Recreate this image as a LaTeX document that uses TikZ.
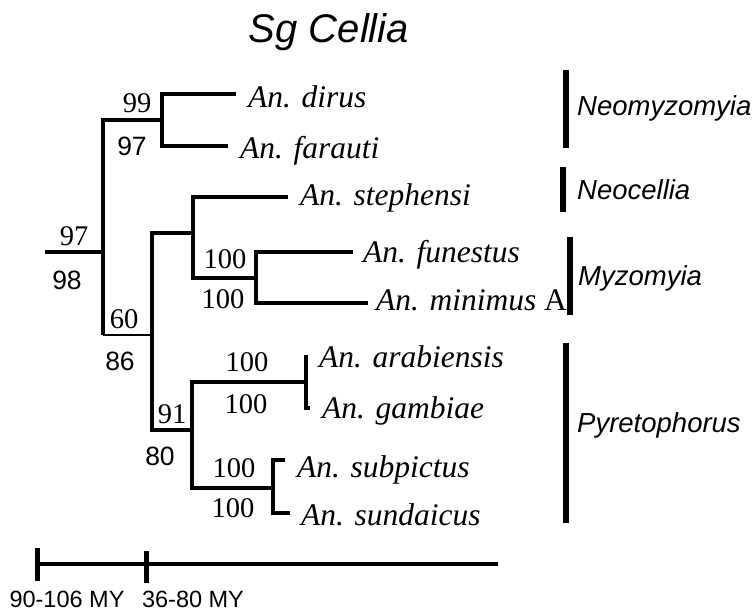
\documentclass[tikz,border=0pt]{standalone}
\usepackage{fontspec}
\setmainfont{Liberation Serif}
\setsansfont{Liberation Sans}
\begin{document}
\begin{tikzpicture}[x=1pt,y=-1pt,
  br/.style={line width=3.3pt, line join=miter},
  thinbr/.style={line width=1.5pt},
  sp/.style={anchor=base west, inner sep=0pt, font=\fontsize{31.5}{34}\selectfont\itshape},
  bs/.style={anchor=base, inner sep=0pt, font=\fontsize{28.5}{30}\selectfont},
  bsf/.style={anchor=base, inner sep=0pt, font=\sffamily\fontsize{26.5}{30}\selectfont},
  clade/.style={anchor=base west, inner sep=0pt, font=\sffamily\itshape\fontsize{27.5}{30}\selectfont},
  cladebar/.style={line width=5.5pt},
  scalebar/.style={line width=3.4pt},
  scaletick/.style={line width=5pt},
  scalelab/.style={anchor=base, inner sep=0pt, font=\sffamily\fontsize{23.5}{28}\selectfont},
]
\useasboundingbox (0,0) rectangle (753,611);

% title
\node[anchor=base, inner sep=0pt, font=\sffamily\itshape\fontsize{40}{44}\selectfont] (title) at (329,42) {Sg Cellia};

% tree coordinates
\coordinate (r0) at (45,252);
\coordinate (n0) at (103,252);
\coordinate (n1) at (162,120);
\coordinate (n2h) at (103,335);
\coordinate (n2) at (152,335);
\coordinate (n3) at (193,233);
\coordinate (n4) at (256,278);
\coordinate (n5) at (192,430);
\coordinate (n6) at (306,382);
\coordinate (n7) at (273,488);
\coordinate (t1) at (236,94);
\coordinate (t2) at (228,146);
\coordinate (t3) at (288,197);
\coordinate (t4) at (353,252);
\coordinate (t5) at (368,303);
\coordinate (t6) at (306,355);
\coordinate (t7) at (310,408);
\coordinate (t8) at (285,460);
\coordinate (t9) at (290,513);

% branches
\draw[br] (r0) -- (n0);
\draw[br] (n0) |- (n1);
\draw[br] (n0) -- (n2h);
\draw[thinbr] (n2h) -- (n2);
\draw[br] (n1) |- (t1);
\draw[br] (n1) |- (t2);
\draw[br] (n2) |- (n3);
\draw[br] (n2) |- (n5);
\draw[br] (n3) |- (t3);
\draw[br] (n3) |- (n4);
\draw[br] (n4) |- (t4);
\draw[br] (n4) |- (t5);
\draw[br] (n5) |- (n6);
\draw[br] (n5) |- (n7);
\draw[br] (n6) |- (t6);
\draw[br] (n6) |- (t7);
\draw[br] (n7) |- (t8);
\draw[br] (n7) |- (t9);

% species
\node[sp] (dirus) at (248,107) {An. dirus};
\node[sp] (farauti) at (240,158) {An. farauti};
\node[sp] (stephensi) at (300,205) {An. stephensi};
\node[sp] (funestus) at (363,262) {An. funestus};
\node[sp] (minimus) at (376,310) {An. minimus {\upshape A}};
\node[sp] (arabiensis) at (319,367) {An. arabiensis};
\node[sp] (gambiae) at (322,418) {An. gambiae};
\node[sp] (subpictus) at (297,477) {An. subpictus};
\node[sp] (sundaicus) at (301,525) {An. sundaicus};

% support values (serif)
\node[bs] (b99) at (137,112) {99};
\node[bs] (b97a) at (74,245) {97};
\node[bs] (b60) at (124,328) {60};
\node[bs] (b100a) at (225,268) {100};
\node[bs] (b100b) at (223,308) {100};
\node[bs] (b91) at (172,423) {91};
\node[bs] (b100c) at (247,371) {100};
\node[bs] (b100d) at (246,413) {100};
\node[bs] (b100e) at (234,477) {100};
\node[bs] (b100f) at (233,517) {100};

% support values (sans)
\node[bsf] (s97) at (132,155) {97};
\node[bsf] (s98) at (67,289) {98};
\node[bsf] (s86) at (120,370) {86};
\node[bsf] (s80) at (160,465) {80};

% clade bars
\coordinate (c1a) at (566,70);  \coordinate (c1b) at (566,148);
\coordinate (c2a) at (563,167); \coordinate (c2b) at (563,212);
\coordinate (c3a) at (570,237); \coordinate (c3b) at (570,315);
\coordinate (c4a) at (566,343); \coordinate (c4b) at (566,523);
\draw[cladebar] (c1a) -- (c1b);
\draw[cladebar] (c2a) -- (c2b);
\draw[cladebar] (c3a) -- (c3b);
\draw[cladebar] (c4a) -- (c4b);
\node[clade] (neomyz) at (577,115) {Neomyzomyia};
\node[clade] (neocel) at (577,199) {Neocellia};
\node[clade] (myzo) at (578,285) {Myzomyia};
\node[clade] (pyreto) at (577,432) {Pyretophorus};

% scale bar
\coordinate (s0) at (37,564);
\coordinate (s1) at (498,564);
\coordinate (k0a) at (37,548); \coordinate (k0b) at (37,581);
\coordinate (k1a) at (146,551); \coordinate (k1b) at (146,583);
\draw[scalebar] (s0) -- (s1);
\draw[scaletick] (k0a) -- (k0b);
\draw[scaletick] (k1a) -- (k1b);
\node[scalelab] (my1) at (67,607) {90-106 MY};
\node[scalelab] (my2) at (193,607) {36-80 MY};
\end{tikzpicture}
\end{document}
